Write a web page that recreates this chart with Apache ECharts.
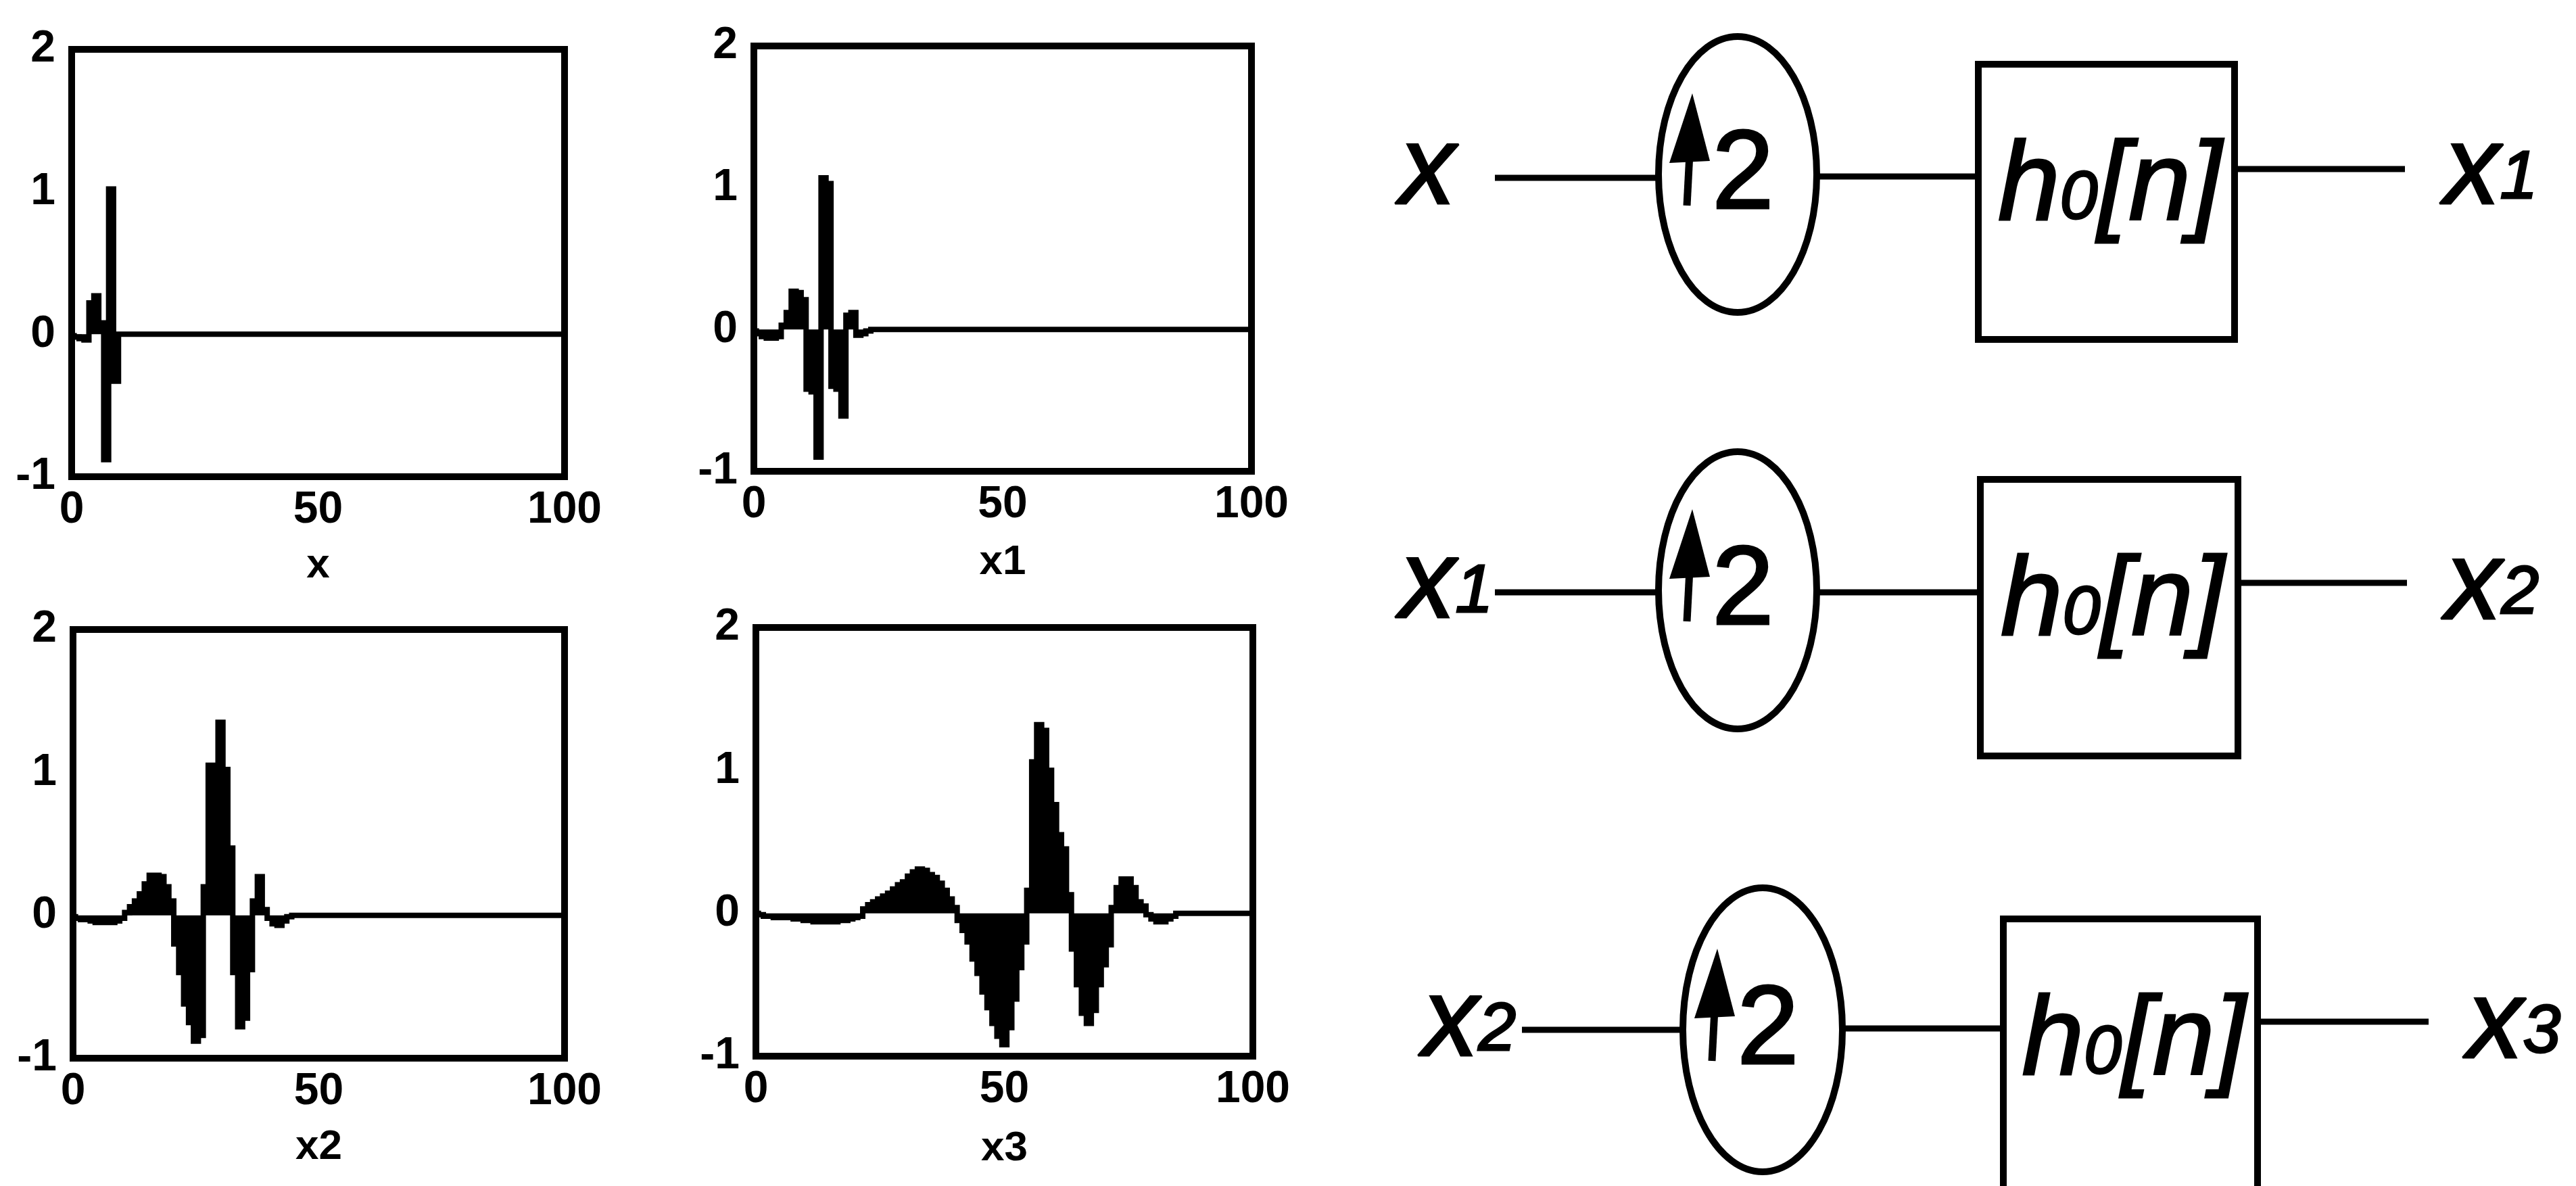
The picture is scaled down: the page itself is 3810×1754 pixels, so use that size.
<!DOCTYPE html>
<html>
<head>
<meta charset="utf-8">
<script src="https://cdn.jsdelivr.net/npm/echarts@6/dist/echarts.min.js"></script>
<style>
  html, body { margin: 0; padding: 0; background: #ffffff; }
  #chart { width: 3810px; height: 1754px; }
</style>
</head>
<body>
<div id="chart"></div>
<script>
// Cascade of the upsample-and-filter stage: x -> x1 -> x2 -> x3 (sample index 0..100)
const x = [
  -0.01, -0.02, -0.03, -0.04, 0.22, 0.27, 0.08, -0.88, 1.02, -0.33,
  0, 0, 0, 0, 0, 0, 0, 0, 0, 0,
  0, 0, 0, 0, 0, 0, 0, 0, 0, 0,
  0, 0, 0, 0, 0, 0, 0, 0, 0, 0,
  0, 0, 0, 0, 0, 0, 0, 0, 0, 0,
  0, 0, 0, 0, 0, 0, 0, 0, 0, 0,
  0, 0, 0, 0, 0, 0, 0, 0, 0, 0,
  0, 0, 0, 0, 0, 0, 0, 0, 0, 0,
  0, 0, 0, 0, 0, 0, 0, 0, 0, 0,
  0, 0, 0, 0, 0, 0, 0, 0, 0, 0,
  0
];
const x1 = [
  -0.01, -0.03, -0.05, -0.06, -0.06, -0.05, 0.03, 0.12, 0.27, 0.26,
  0.21, -0.42, -0.44, -0.9, 1.07, 1.03, -0.4, -0.42, -0.61, 0.1,
  0.12, -0.04, -0.03, -0.01, 0, 0, 0, 0, 0, 0,
  0, 0, 0, 0, 0, 0, 0, 0, 0, 0,
  0, 0, 0, 0, 0, 0, 0, 0, 0, 0,
  0, 0, 0, 0, 0, 0, 0, 0, 0, 0,
  0, 0, 0, 0, 0, 0, 0, 0, 0, 0,
  0, 0, 0, 0, 0, 0, 0, 0, 0, 0,
  0, 0, 0, 0, 0, 0, 0, 0, 0, 0,
  0, 0, 0, 0, 0, 0, 0, 0, 0, 0,
  0
];
const x2 = [
  -0.01, -0.02, -0.03, -0.03, -0.04, -0.05, -0.05, -0.05, -0.05, -0.04,
  -0.02, 0.02, 0.06, 0.1, 0.15, 0.22, 0.28, 0.28, 0.27, 0.2,
  0.1, -0.2, -0.4, -0.62, -0.75, -0.88, -0.84, 0.2, 1.05, 1.05,
  1.35, 1.02, 0.47, -0.4, -0.78, -0.72, -0.38, 0.1, 0.27, 0.04,
  -0.02, -0.06, -0.07, -0.04, -0.01, 0, 0, 0, 0, 0,
  0, 0, 0, 0, 0, 0, 0, 0, 0, 0,
  0, 0, 0, 0, 0, 0, 0, 0, 0, 0,
  0, 0, 0, 0, 0, 0, 0, 0, 0, 0,
  0, 0, 0, 0, 0, 0, 0, 0, 0, 0,
  0, 0, 0, 0, 0, 0, 0, 0, 0, 0,
  0
];
const x3 = [
  0, -0.01, -0.02, -0.02, -0.03, -0.03, -0.03, -0.03, -0.04, -0.04,
  -0.05, -0.05, -0.06, -0.06, -0.06, -0.06, -0.06, -0.05, -0.05, -0.04,
  -0.03, -0.02, 0.03, 0.06, 0.08, 0.1, 0.12, 0.14, 0.17, 0.2,
  0.22, 0.26, 0.29, 0.31, 0.3, 0.27, 0.25, 0.21, 0.16, 0.1,
  0.04, -0.05, -0.12, -0.2, -0.32, -0.42, -0.55, -0.66, -0.77, -0.86,
  -0.92, -0.8, -0.6, -0.38, -0.2, 0.16, 1.06, 1.32, 1.28, 1.0,
  0.76, 0.55, 0.45, 0.13, -0.25, -0.5, -0.7, -0.77, -0.68, -0.5,
  -0.36, -0.22, 0.04, 0.18, 0.24, 0.24, 0.18, 0.08, 0.05, -0.01,
  -0.04, -0.06, -0.06, -0.04, -0.02, 0, 0, 0, 0, 0,
  0, 0, 0, 0, 0, 0, 0, 0, 0, 0,
  0
];

const signalNames = ['x', 'x1', 'x2', 'x3'];
const xTicks = [0, 50, 100];
const yTicks = [-1, 0, 1, 2];

// Block diagram texts
const stageInputs = [['x', ''], ['x', '1'], ['x', '2']];
const stageOutputs = [['x', '1'], ['x', '2'], ['x', '3']];
const upsampleText = '2';
const filterText = ['h', '0', '[n]'];

const signals = [x, x1, x2, x3];

// Plot frames (pixel layout of each small axes box)
const frames = [
  { left: 106, top: 73, width: 729, height: 632, gap: 101 },
  { left: 1115, top: 68, width: 736, height: 629, gap: 104 },
  { left: 108, top: 931, width: 727, height: 634, gap: 101 },
  { left: 1118, top: 928, width: 735, height: 634, gap: 106 }
];

const tickFont = {
  color: '#000',
  fontFamily: "'Liberation Sans', Arial, sans-serif",
  fontWeight: 'bold',
  fontSize: 66
};

const grids = [], xAxes = [], yAxes = [], series = [];
frames.forEach((f, k) => {
  grids.push({
    left: f.left, top: f.top, width: f.width, height: f.height,
    show: true, borderColor: '#000', borderWidth: 10, backgroundColor: 'transparent'
  });
  xAxes.push({
    type: 'value', gridIndex: k,
    min: xTicks[0], max: xTicks[xTicks.length - 1], interval: xTicks[1] - xTicks[0],
    name: signalNames[k], nameLocation: 'middle', nameGap: f.gap,
    nameTextStyle: Object.assign({}, tickFont, { fontSize: 62 }),
    axisLine: { show: false }, axisTick: { show: false }, splitLine: { show: false },
    axisLabel: Object.assign({ margin: 17 }, tickFont)
  });
  yAxes.push({
    type: 'value', gridIndex: k,
    min: yTicks[0], max: yTicks[yTicks.length - 1], interval: yTicks[1] - yTicks[0],
    axisLine: { show: false }, axisTick: { show: false }, splitLine: { show: false },
    axisLabel: Object.assign({ margin: 24 }, tickFont)
  });
  // each sample is held over its unit cell and filled down to zero
  series.push({
    type: 'line', xAxisIndex: k, yAxisIndex: k,
    data: signals[k].map((v, i) => [i, v]),
    step: 'middle', symbol: 'none',
    lineStyle: { color: '#000', width: 8, join: 'miter' },
    areaStyle: { color: '#000', opacity: 1, origin: 0 },
    silent: true, z: 3
  });
});

// Block diagram: x -> (up 2) -> h0[n] -> x_next, three rows
const sans = "'Liberation Sans', Arial, sans-serif";
const ink = { fill: '#000', color: '#000', stroke: '#000', lineWidth: 3 };
const labelRich = {
  m: Object.assign({ fontFamily: sans, fontStyle: 'italic', fontSize: 165 }, ink),
  s: Object.assign({ fontFamily: sans, fontStyle: 'italic', fontSize: 100, padding: [20, 0, 0, 0] }, ink)
};
const filterRich = {
  a: Object.assign({ fontFamily: sans, fontStyle: 'italic', fontSize: 165 }, ink),
  s: Object.assign({ fontFamily: sans, fontStyle: 'italic', fontSize: 100, padding: [32, 0, 0, 0] }, ink)
};

const rows = [
  { inX: 2070, inY: 255, inLine: [2211, 2452, 263], cx: 2570, cy: 258, rx: 117, ry: 204,
    midLine: [2687, 2926, 261], box: [2926, 95, 379, 407], outLine: [3305, 3557, 250], outX: 3615, outY: 255 },
  { inX: 2070, inY: 867, inLine: [2211, 2452, 876], cx: 2570, cy: 873, rx: 117, ry: 205,
    midLine: [2687, 2929, 876], box: [2929, 709, 381, 409], outLine: [3310, 3560, 862], outX: 3617, outY: 869 },
  { inX: 2104, inY: 1515, inLine: [2251, 2489, 1523], cx: 2607, cy: 1523, rx: 118, ry: 210,
    midLine: [2725, 2963, 1521], box: [2963, 1359, 376, 407], outLine: [3339, 3592, 1511], outX: 3649, outY: 1518 }
];

function labelText(pair) {
  return '{m|' + pair[0] + '}' + (pair[1] ? '{s|' + pair[1] + '}' : '');
}

const strokeStyle = (w) => ({ stroke: '#000', lineWidth: w, fill: null });
const elements = [];
rows.forEach((r, k) => {
  elements.push({
    type: 'text', silent: true,
    style: { text: labelText(stageInputs[k]), rich: labelRich, x: r.inX, y: r.inY,
      textAlign: 'left', textVerticalAlign: 'middle', align: 'left', verticalAlign: 'middle' }
  });
  elements.push({ type: 'line', silent: true,
    shape: { x1: r.inLine[0], y1: r.inLine[2], x2: r.inLine[1], y2: r.inLine[2] }, style: strokeStyle(9) });
  elements.push({ type: 'ellipse', silent: true,
    shape: { cx: r.cx, cy: r.cy, rx: r.rx, ry: r.ry }, style: strokeStyle(10) });
  elements.push({ type: 'line', silent: true,
    shape: { x1: r.cx - 75, y1: r.cy + 46, x2: r.cx - 71, y2: r.cy - 30 }, style: strokeStyle(11) });
  elements.push({ type: 'polygon', silent: true,
    shape: { points: [[r.cx - 67, r.cy - 120], [r.cx - 101, r.cy - 17], [r.cx - 41, r.cy - 20]] },
    style: { fill: '#000' } });
  elements.push({
    type: 'text', silent: true,
    style: { text: upsampleText, x: r.cx + 8, y: r.cy + 4, fill: '#000', stroke: '#000', lineWidth: 3,
      font: "normal 165px " + sans,
      textAlign: 'center', textVerticalAlign: 'middle', align: 'center', verticalAlign: 'middle' }
  });
  elements.push({ type: 'line', silent: true,
    shape: { x1: r.midLine[0], y1: r.midLine[2], x2: r.midLine[1], y2: r.midLine[2] }, style: strokeStyle(9) });
  elements.push({ type: 'rect', silent: true,
    shape: { x: r.box[0], y: r.box[1], width: r.box[2], height: r.box[3] }, style: strokeStyle(10) });
  elements.push({
    type: 'text', silent: true,
    style: { text: '{a|' + filterText[0] + '}{s|' + filterText[1] + '}{a|' + filterText[2] + '}',
      rich: filterRich, x: r.box[0] + r.box[2] / 2 + 5, y: r.box[1] + 184,
      textAlign: 'center', textVerticalAlign: 'middle', align: 'center', verticalAlign: 'middle' }
  });
  elements.push({ type: 'line', silent: true,
    shape: { x1: r.outLine[0], y1: r.outLine[2], x2: r.outLine[1], y2: r.outLine[2] }, style: strokeStyle(9) });
  elements.push({
    type: 'text', silent: true,
    style: { text: labelText(stageOutputs[k]), rich: labelRich, x: r.outX, y: r.outY,
      textAlign: 'left', textVerticalAlign: 'middle', align: 'left', verticalAlign: 'middle' }
  });
});

const chart = echarts.init(document.getElementById('chart'), null, { renderer: 'canvas' });
chart.setOption({
  backgroundColor: '#ffffff',
  animation: false,
  grid: grids,
  xAxis: xAxes,
  yAxis: yAxes,
  series: series,
  graphic: { elements: elements }
});
</script>
</body>
</html>
